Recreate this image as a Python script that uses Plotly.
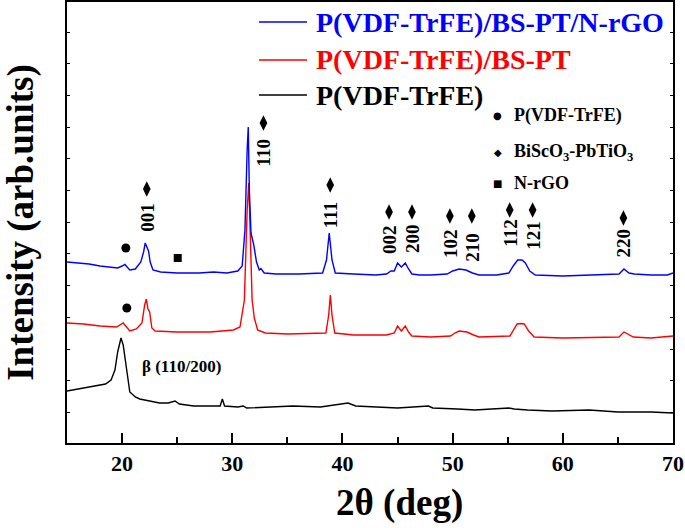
import plotly.graph_objects as go

# ---- data (2θ in degrees, intensity in arbitrary units) ----
blue_x = [15.0, 16.0, 17.0, 18.0, 19.0, 19.6, 20.0, 20.25, 20.7, 21.2, 21.7, 21.95, 22.1, 22.3, 22.4, 22.55, 22.8,
          23.5, 25.0, 27.0, 28.3, 29.5, 30.5, 30.9, 31.15, 31.35, 31.45, 31.55, 31.7, 31.95, 32.2, 32.45, 32.6, 32.9,
          34.0, 36.0, 38.2, 38.55, 38.8, 39.05, 39.35, 41.0, 43.0, 44.0, 44.4, 44.7, 45.0, 45.35, 45.7, 46.0, 46.3,
          47.0, 48.0, 49.5, 50.0, 50.6, 51.2, 51.8, 52.4, 54.0, 55.1, 55.5, 55.9, 56.3, 56.6, 57.0, 57.5, 60.0, 63.0,
          65.1, 65.55, 66.0, 66.5, 68.0, 69.5, 70.0]
blue_y = [181, 180, 179, 177, 176, 175, 177, 178.5, 173, 174, 181, 191, 200, 193, 192, 181, 173,
          171, 170, 170, 171, 170, 172, 177, 213, 293, 316, 253, 210, 198, 181, 173, 174.5, 170,
          169, 169, 170, 183, 210, 183, 170, 169, 168, 169, 172, 172, 180, 176, 180, 174, 169,
          168, 168, 169, 172, 174, 173, 170, 168, 168, 170, 177, 183, 183, 180, 172, 168, 167, 168,
          169, 174, 170, 169, 168, 168, 170]

red_x = [15.0, 16.5, 18.0, 19.5, 20.1, 20.7, 21.3, 21.8, 22.05, 22.2, 22.35, 22.5, 22.7, 23.0, 25.0, 28.0,
         30.1, 30.7, 31.1, 31.35, 31.5, 31.6, 31.8, 32.0, 32.3, 33.0, 35.0, 38.5, 38.75, 38.9, 39.05, 39.3,
         41.0, 44.0, 44.4, 44.7, 45.0, 45.35, 45.7, 46.0, 46.3, 48.0, 49.8, 50.2, 50.6, 51.3, 51.9, 52.4,
         55.2, 55.6, 55.85, 56.2, 56.5, 56.9, 57.4, 60.0, 65.1, 65.55, 66.0, 66.4, 68.0, 70.0]
red_y = [120, 119, 117, 116, 120, 112, 114, 120, 138, 144, 134, 131, 115, 112, 111, 111,
         113, 116, 143, 233, 260, 213, 143, 125, 113, 110, 109, 110, 128, 148, 128, 110,
         108, 108, 109, 110, 117, 112, 117, 111, 107, 106, 107, 110, 112, 111, 108, 106,
         107, 115, 119, 119.5, 119, 112, 106, 105, 106, 111, 108, 106, 105, 107]

black_x = [15.0, 16.0, 17.4, 18.5, 19.0, 19.35, 19.6, 19.9, 20.1, 20.35, 20.7, 21.2, 21.6, 22.5, 23.4, 24.2,
           24.8, 25.2, 26.5, 28.0, 28.9, 29.1, 29.3, 30.5, 31.0, 31.3, 33.0, 35.5, 38.0, 40.5, 41.2, 43.2,
           45.0, 47.8, 48.2, 50.45, 52.0, 55.1, 55.6, 56.8, 59.0, 62.4, 65.0, 68.0, 70.0]
black_y = [52, 54, 57, 59, 63, 73, 91, 105, 98, 78, 51, 46, 44, 42, 40, 40,
           42, 39, 37, 37, 37, 44, 37, 36, 37, 35, 36, 37, 36, 40, 37, 36,
           35, 37, 35, 34, 33, 35, 34, 33, 32, 33, 31, 31, 30]

series_names = ["P(VDF-TrFE)/BS-PT/N-rGO", "P(VDF-TrFE)/BS-PT", "P(VDF-TrFE)"]
series_colors = ["#0000ff", "#ff0000", "#000000"]

# BiScO3-PbTiO3 reflections: label, 2θ, label centre height, diamond height
peak_labels = ["001", "110", "111", "002", "200", "102", "210", "112", "121", "220"]
peak_x = [22.24, 32.83, 38.89, 44.23, 46.31, 49.75, 51.74, 55.18, 57.26, 65.5]
peak_label_y = [226, 290, 228, 203, 205, 200, 196, 210, 208, 200]
peak_diamond_y = [254, 320, 258, 231, 231, 227, 227, 233, 233, 225]

# P(VDF-TrFE) markers (circle) and N-rGO marker (square)
pvdf_x = [20.34, 20.43]
pvdf_y = [195, 135]
nrgo_x = [25.05]
nrgo_y = [185]

FONT = "Liberation Serif"

fig = go.Figure()
for xs, ys, name, col in [(black_x, black_y, series_names[2], series_colors[2]),
                          (red_x, red_y, series_names[1], series_colors[1]),
                          (blue_x, blue_y, series_names[0], series_colors[0])]:
    fig.add_trace(go.Scatter(x=xs, y=ys, mode="lines", name=name,
                             line=dict(color=col, width=1.4), showlegend=False))

fig.add_trace(go.Scatter(x=peak_x, y=peak_diamond_y, mode="markers", showlegend=False,
                         marker=dict(symbol="diamond-tall", size=11, color="black")))
fig.add_trace(go.Scatter(x=pvdf_x, y=pvdf_y, mode="markers", showlegend=False,
                         marker=dict(symbol="circle", size=9, color="black")))
fig.add_trace(go.Scatter(x=nrgo_x, y=nrgo_y, mode="markers", showlegend=False,
                         marker=dict(symbol="square", size=8, color="black")))

annotations = []
for lab, px, py in zip(peak_labels, peak_x, peak_label_y):
    annotations.append(dict(x=px, y=py, text=lab, textangle=-90, showarrow=False,
                            font=dict(family=FONT, size=19, color="black", weight="bold")))
annotations.append(dict(x=25.4, y=77, text="β (110/200)", showarrow=False,
                        font=dict(family=FONT, size=17, color="black", weight="bold")))

# series legend (line + coloured text)
legend_rows_y = [22, 60, 95]
shapes = []
for name, col, yy in zip(series_names, series_colors, legend_rows_y):
    yp = 1 - (yy - 2) / 441
    shapes.append(dict(type="line", xref="paper", yref="paper",
                       x0=(259 - 67) / 606, x1=(307 - 67) / 606, y0=yp, y1=yp,
                       line=dict(color=col, width=1.5)))
    annotations.append(dict(xref="paper", yref="paper", x=(314 - 67) / 606, y=yp,
                            xanchor="left", yanchor="middle", text=name, showarrow=False,
                            font=dict(family=FONT, size=28, color=col, weight="bold")))

# phase key
key_texts = ["P(VDF-TrFE)", "BiScO<sub>3</sub>-PbTiO<sub>3</sub>", "N-rGO"]
key_symbols = ["●", "◆", "■"]
key_y = [328, 291, 260]
for t, s, yy in zip(key_texts, key_symbols, key_y):
    annotations.append(dict(x=55.36, y=yy, xanchor="left", yanchor="middle", text=t,
                            showarrow=False,
                            font=dict(family=FONT, size=18, color="black", weight="bold")))
    annotations.append(dict(x=54.1, y=yy, xanchor="center", yanchor="middle", text=s,
                            showarrow=False,
                            font=dict(family="DejaVu Sans", size=10, color="black")))

# x-axis title (placed right of centre as in the original)
annotations.append(dict(xref="paper", yref="paper", x=(399 - 67) / 606, y=(443 - 503) / 441,
                        xanchor="center", yanchor="middle", text="2θ (deg)", showarrow=False,
                        font=dict(family=FONT, size=37, color="black", weight="bold")))

fig.update_layout(
    width=685, height=528,
    margin=dict(l=67, r=12, t=2, b=85),
    paper_bgcolor="white", plot_bgcolor="white",
    annotations=annotations, shapes=shapes,
    font=dict(family=FONT, color="black"),
)
fig.update_xaxes(range=[15, 70], dtick=10, tick0=10, ticks="inside", ticklen=10, tickwidth=1.5,
                 minor=dict(ticks="inside", ticklen=6, dtick=5, tick0=15, tickwidth=1.5, tickcolor="black"),
                 tickcolor="black", showline=True, linewidth=2, linecolor="black", mirror=True,
                 showgrid=False, zeroline=False, automargin=False,
                 tickfont=dict(family=FONT, size=22, weight="bold"))
fig.update_yaxes(range=[0, 441], tick0=30.6, dtick=31.7, ticks="inside", ticklen=3, tickwidth=1,
                 tickcolor="black", showticklabels=False, showline=True, linewidth=2, linecolor="black",
                 mirror="ticks", showgrid=False, zeroline=False, automargin=False,
                 title=dict(text="Intensity (arb.units)", font=dict(family=FONT, size=37, weight="bold"),
                            standoff=22))

fig.write_html("out.html", config={"displayModeBar": False},
               post_script="document.body.style.margin='0';")
